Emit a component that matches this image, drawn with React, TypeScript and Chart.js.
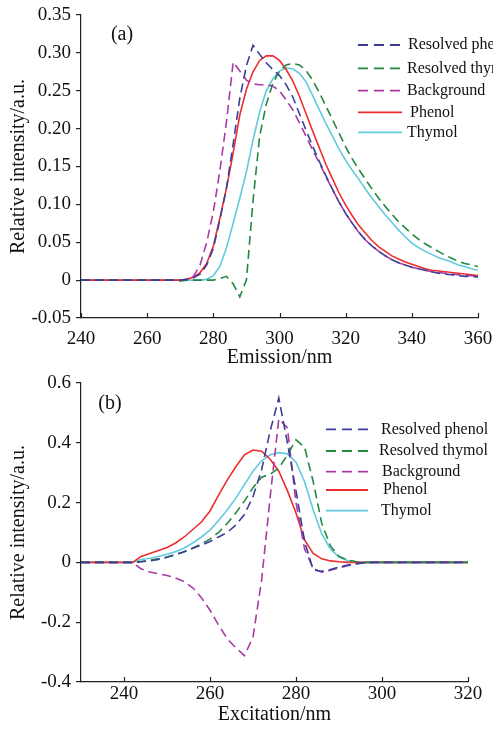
import React, { useEffect, useRef } from "react";
import { Chart, registerables } from "chart.js";

Chart.register(...registerables);

const SERIF = "'Liberation Serif', 'Times New Roman', Times, serif";

// ---------- Panel (a): emission spectra ----------
const emissionNm = [240, 260, 268, 270, 272, 274, 276, 278, 280, 282, 284, 286, 288, 290, 292, 294, 296, 298, 300, 302, 304, 306, 308, 310, 312, 314, 316, 318, 320, 322, 324, 326, 328, 330, 332, 334, 336, 338, 340, 342, 344, 346, 348, 350, 352, 354, 356, 358, 360];
const emResolvedPhenol = [0, 0, 0, 0, 0.001, 0.003, 0.008, 0.02, 0.042, 0.08, 0.122, 0.18, 0.24, 0.283, 0.31, 0.298, 0.287, 0.278, 0.27, 0.258, 0.242, 0.22, 0.198, 0.177, 0.157, 0.138, 0.12, 0.103, 0.088, 0.075, 0.063, 0.053, 0.045, 0.038, 0.032, 0.027, 0.023, 0.02, 0.017, 0.015, 0.013, 0.011, 0.009, 0.008, 0.007, 0.006, 0.005, 0.005, 0.004];
const emResolvedThymol = [0, 0, 0, -0.001, 0, 0, 0, 0, 0, 0.002, 0.005, -0.005, -0.022, 0.0, 0.105, 0.19, 0.232, 0.26, 0.276, 0.284, 0.286, 0.284, 0.277, 0.264, 0.248, 0.23, 0.212, 0.194, 0.176, 0.16, 0.146, 0.133, 0.12, 0.108, 0.097, 0.087, 0.077, 0.069, 0.061, 0.054, 0.048, 0.043, 0.038, 0.033, 0.029, 0.025, 0.022, 0.02, 0.018];
const emBackground = [0, 0, 0, 0, 0.001, 0.005, 0.02, 0.05, 0.09, 0.145, 0.21, 0.288, 0.276, 0.264, 0.259, 0.258, 0.258, 0.256, 0.25, 0.238, 0.225, 0.208, 0.19, 0.172, 0.155, 0.137, 0.12, 0.103, 0.088, 0.075, 0.063, 0.053, 0.045, 0.038, 0.032, 0.027, 0.023, 0.02, 0.017, 0.015, 0.013, 0.011, 0.01, 0.009, 0.008, 0.007, 0.006, 0.006, 0.005];
const emPhenol = [0, 0, 0, 0, 0.001, 0.004, 0.01, 0.022, 0.045, 0.082, 0.122, 0.168, 0.218, 0.252, 0.275, 0.29, 0.296, 0.296, 0.29, 0.278, 0.263, 0.243, 0.22, 0.197, 0.175, 0.153, 0.134, 0.115, 0.099, 0.085, 0.072, 0.062, 0.052, 0.044, 0.038, 0.032, 0.028, 0.024, 0.021, 0.018, 0.015, 0.013, 0.012, 0.011, 0.01, 0.009, 0.008, 0.007, 0.006];
const emThymol = [0, 0, 0, 0, 0, 0, 0, 0.001, 0.006, 0.018, 0.043, 0.075, 0.108, 0.143, 0.185, 0.222, 0.25, 0.266, 0.276, 0.28, 0.279, 0.273, 0.262, 0.244, 0.225, 0.207, 0.19, 0.173, 0.158, 0.145, 0.133, 0.12, 0.108, 0.097, 0.086, 0.076, 0.066, 0.057, 0.049, 0.043, 0.038, 0.034, 0.03, 0.027, 0.024, 0.02, 0.018, 0.015, 0.013];
const emXTicks = [240, 260, 280, 300, 320, 340, 360];
const emYTicks = [-0.05, 0, 0.05, 0.1, 0.15, 0.2, 0.25, 0.3, 0.35];
const emYLabels = ["-0.05", "0", "0.05", "0.10", "0.15", "0.20", "0.25", "0.30", "0.35"];

// ---------- Panel (b): excitation spectra ----------
const excitationNm = [230, 240, 242, 244, 246, 248, 250, 252, 254, 256, 258, 260, 262, 264, 266, 268, 270, 272, 274, 276, 278, 280, 282, 284, 286, 288, 290, 292, 294, 296, 298, 300, 320];
const exResolvedPhenol = [0, 0, 0, 0.002, 0.005, 0.01, 0.017, 0.026, 0.036, 0.047, 0.058, 0.07, 0.085, 0.1, 0.125, 0.16, 0.22, 0.31, 0.44, 0.55, 0.4, 0.24, 0.07, -0.025, -0.03, -0.024, -0.016, -0.009, -0.004, -0.001, 0, 0, 0];
const exResolvedThymol = [0, 0, 0, 0.003, 0.007, 0.012, 0.018, 0.026, 0.036, 0.048, 0.062, 0.078, 0.1, 0.13, 0.165, 0.205, 0.25, 0.285, 0.295, 0.315, 0.36, 0.41, 0.385, 0.27, 0.13, 0.055, 0.02, 0.008, 0.002, 0, 0, 0, 0];
const exBackground = [0, 0, 0, -0.022, -0.032, -0.038, -0.044, -0.052, -0.064, -0.085, -0.118, -0.16, -0.21, -0.255, -0.285, -0.312, -0.25, -0.06, 0.22, 0.48, 0.45, 0.2, 0.045, -0.02, -0.033, -0.026, -0.018, -0.011, -0.005, -0.001, 0, 0, 0];
const exPhenol = [0, 0, 0, 0.02, 0.03, 0.04, 0.05, 0.065, 0.085, 0.11, 0.135, 0.172, 0.225, 0.275, 0.32, 0.36, 0.376, 0.372, 0.345, 0.305, 0.24, 0.165, 0.075, 0.03, 0.012, 0.005, 0.002, 0, 0, 0, 0, 0, 0];
const exThymol = [0, 0, 0, 0.01, 0.014, 0.02, 0.027, 0.036, 0.048, 0.065, 0.085, 0.108, 0.14, 0.175, 0.215, 0.26, 0.305, 0.34, 0.36, 0.367, 0.363, 0.335, 0.27, 0.175, 0.095, 0.045, 0.018, 0.006, 0.002, 0, 0, 0, 0];
const exXTicks = [240, 260, 280, 300, 320];
const exYTicks = [-0.4, -0.2, 0, 0.2, 0.4, 0.6];
const exYLabels = ["-0.4", "-0.2", "0", "0.2", "0.4", "0.6"];

const seriesLabels = ["Resolved phenol", "Resolved thymol", "Background", "Phenol", "Thymol"];
const seriesColors = ["#3b3f98", "#22883f", "#a83aa5", "#ef2d2d", "#62cadd"];
const seriesDashed = [true, true, true, false, false];

const AXIS = "#222";

const decorPlugin = {
  id: "decor",
  afterDatasetsDraw(chart: any, _args: any, opts: any) {
    const ctx = chart.ctx as CanvasRenderingContext2D;
    const xs = chart.scales.x;
    const area = chart.chartArea;
    ctx.save();
    ctx.strokeStyle = AXIS;
    ctx.lineWidth = 1.2;
    ctx.setLineDash([]);
    xs.ticks.forEach((t: any) => {
      const px = Math.round(xs.getPixelForValue(t.value)) + 0.5;
      ctx.beginPath();
      ctx.moveTo(px, area.bottom);
      ctx.lineTo(px, area.bottom - 5);
      ctx.stroke();
    });
    ctx.fillStyle = "#111";
    ctx.font = `20px ${SERIF}`;
    ctx.textAlign = "center";
    ctx.textBaseline = "middle";
    ctx.fillText(opts.panelLabel, opts.labelX, opts.labelY);
    ctx.font = `16px ${SERIF}`;
    ctx.textAlign = "left";
    chart.data.datasets.forEach((ds: any, i: number) => {
      const y = opts.legendRows[i];
      ctx.strokeStyle = ds.borderColor;
      ctx.lineWidth = 1.8;
      ctx.setLineDash(ds.borderDash && ds.borderDash.length ? [10, 6] : []);
      ctx.beginPath();
      ctx.moveTo(opts.legendX0, y);
      ctx.lineTo(opts.legendX1, y);
      ctx.stroke();
      ctx.setLineDash([]);
      ctx.fillStyle = "#111";
      ctx.fillText(ds.label, opts.legendTextX[i], y);
    });
    ctx.restore();
  },
};

type Spec = {
  height: number;
  xs: number[];
  ys: number[][];
  xMin: number;
  xMax: number;
  xTicks: number[];
  yMin: number;
  yMax: number;
  yTicks: number[];
  yLabels: string[];
  xTitle: string;
  padTop: number;
  padRight: number;
  xAxisHeight: number;
  xTickPad: number;
  xTitlePad: number;
  decor: any;
};

function makeConfig(s: Spec): any {
  return {
    type: "line",
    data: {
      datasets: s.ys.map((ys, i) => ({
        label: seriesLabels[i],
        data: s.xs.map((x, j) => ({ x, y: ys[j] })),
        borderColor: seriesColors[i],
        borderWidth: 1.6,
        borderDash: seriesDashed[i] ? [9, 5] : [],
        pointRadius: 0,
        tension: 0,
        fill: false,
      })),
    },
    options: {
      animation: false,
      responsive: false,
      devicePixelRatio: 1,
      layout: { padding: { left: 0, right: s.padRight, top: s.padTop, bottom: 0 } },
      plugins: {
        legend: { display: false },
        tooltip: { enabled: false },
        decor: s.decor,
      },
      scales: {
        x: {
          type: "linear",
          min: s.xMin,
          max: s.xMax,
          afterBuildTicks: (sc: any) => {
            sc.ticks = s.xTicks.map((v) => ({ value: v }));
          },
          afterFit: (sc: any) => {
            sc.height = s.xAxisHeight;
            sc.paddingLeft = 0;
            sc.paddingRight = 0;
          },
          grid: { display: false, drawTicks: false },
          border: { display: true, color: AXIS, width: 1.2 },
          ticks: {
            autoSkip: false,
            maxRotation: 0,
            padding: s.xTickPad,
            color: "#111",
            font: { family: SERIF, size: 19, lineHeight: 1 },
            callback: (v: any) => String(v),
          },
          title: {
            display: true,
            text: s.xTitle,
            color: "#111",
            font: { family: SERIF, size: 20 },
            padding: { top: 0, bottom: s.xTitlePad },
          },
        },
        y: {
          type: "linear",
          min: s.yMin,
          max: s.yMax,
          afterBuildTicks: (sc: any) => {
            sc.ticks = s.yTicks.map((v) => ({ value: v }));
          },
          afterFit: (sc: any) => {
            sc.width = 81;
            sc.paddingTop = 0;
            sc.paddingBottom = 0;
          },
          grid: { display: true, drawOnChartArea: false, drawTicks: true, tickLength: 5, color: AXIS, lineWidth: 1.2 },
          border: { display: true, color: AXIS, width: 1.2 },
          ticks: {
            padding: 5,
            color: "#111",
            font: { family: SERIF, size: 19 },
            callback: (_v: any, i: number) => s.yLabels[i],
          },
          title: {
            display: true,
            text: "Relative intensity/a.u.",
            color: "#111",
            font: { family: SERIF, size: 20 },
            padding: { top: 7, bottom: 0 },
          },
        },
      },
    },
    plugins: [decorPlugin],
  };
}

const specA: Spec = {
  height: 370,
  xs: emissionNm,
  ys: [emResolvedPhenol, emResolvedThymol, emBackground, emPhenol, emThymol],
  xMin: 240,
  xMax: 360,
  xTicks: emXTicks,
  yMin: -0.05,
  yMax: 0.35,
  yTicks: emYTicks,
  yLabels: emYLabels,
  xTitle: "Emission/nm",
  padTop: 15,
  padRight: 15,
  xAxisHeight: 52,
  xTickPad: 12,
  xTitlePad: 0,
  decor: {
    panelLabel: "(a)",
    labelX: 122,
    labelY: 35,
    legendX0: 358,
    legendX1: 402,
    legendRows: [45, 68.3, 90.7, 112.3, 132.3],
    legendTextX: [408, 407, 407, 410, 407],
  },
};

const specB: Spec = {
  height: 363,
  xs: excitationNm,
  ys: [exResolvedPhenol, exResolvedThymol, exBackground, exPhenol, exThymol],
  xMin: 230,
  xMax: 320,
  xTicks: exXTicks,
  yMin: -0.4,
  yMax: 0.6,
  yTicks: exYTicks,
  yLabels: exYLabels,
  xTitle: "Excitation/nm",
  padTop: 13,
  padRight: 25,
  xAxisHeight: 51,
  xTickPad: 3,
  xTitlePad: 6,
  decor: {
    panelLabel: "(b)",
    labelX: 110,
    labelY: 34,
    legendX0: 326,
    legendX1: 368,
    legendRows: [59.3, 81, 101.7, 120, 140.7],
    legendTextX: [381, 379, 382, 383, 381],
  },
};

function Panel({ spec }: { spec: Spec }) {
  const ref = useRef<HTMLCanvasElement>(null);
  useEffect(() => {
    const chart = new Chart(ref.current as HTMLCanvasElement, makeConfig(spec));
    return () => chart.destroy();
  }, [spec]);
  return (
    <canvas
      ref={ref}
      width={493}
      height={spec.height}
      style={{ display: "block", width: 493, height: spec.height }}
    />
  );
}

export default function App() {
  return (
    <div style={{ position: "absolute", left: 0, top: 0, width: 493, height: 733, background: "#fff" }}>
      <Panel spec={specA} />
      <Panel spec={specB} />
    </div>
  );
}
